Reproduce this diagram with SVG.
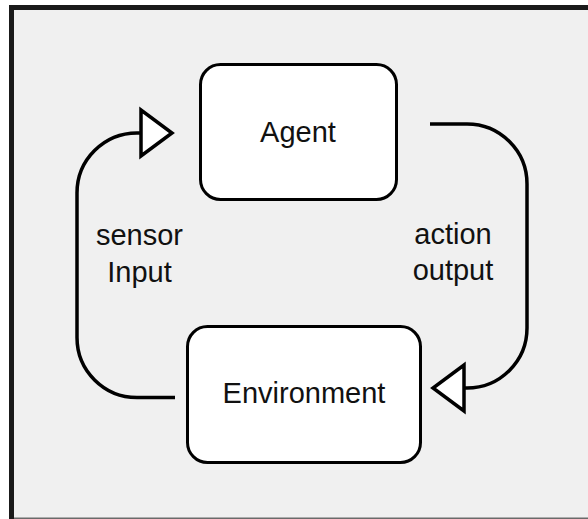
<svg xmlns="http://www.w3.org/2000/svg" width="588" height="519" viewBox="0 0 588 519">
  <style>
    .node rect { fill: #ffffff; stroke: #000000; stroke-width: 3; }
    .label { font-family: "Liberation Sans", Arial, sans-serif; font-size: 29px; fill: #111111; text-anchor: middle; }
    .conn { fill: none; stroke: #000000; stroke-width: 3.5; }
    .head { fill: #ffffff; stroke: #000000; stroke-width: 3.5; stroke-linejoin: miter; }
  </style>
  <rect x="0" y="0" width="588" height="519" fill="#ffffff"/>
  <g id="frame">
    <rect x="11" y="8" width="577" height="511" fill="#f0f0f0"/>
    <rect x="9" y="5" width="579" height="5" fill="#1a1a1a"/>
    <rect x="9" y="5" width="5" height="514" fill="#1a1a1a"/>
    <rect x="14" y="517.5" width="574" height="1.5" fill="#6a6a6a"/>
  </g>
  <g id="connectors">
    <path class="conn" d="M175,397.5 H137 A60,60 0 0 1 77,337.5 V193 A60,60 0 0 1 137,133 H141"/>
    <polygon class="head" points="141,110 141,156 172,133"/>
    <path class="conn" d="M430,124 H467 A60,60 0 0 1 527,184 V328 A60,60 0 0 1 467,388 H464"/>
    <polygon class="head" points="464,365 464,411 433,388"/>
  </g>
  <g id="agent" class="node">
    <rect x="200.5" y="64.5" width="196" height="135" rx="20" ry="20"/>
    <text class="label" x="298" y="142">Agent</text>
  </g>
  <g id="environment" class="node">
    <rect x="187.5" y="326.5" width="233" height="136" rx="20" ry="20"/>
    <text class="label" x="304" y="403">Environment</text>
  </g>
  <g id="sensor-label">
    <text class="label" x="139.5" y="245">sensor</text>
    <text class="label" x="139.5" y="282">Input</text>
  </g>
  <g id="action-label">
    <text class="label" x="453" y="244">action</text>
    <text class="label" x="453" y="280">output</text>
  </g>
</svg>
